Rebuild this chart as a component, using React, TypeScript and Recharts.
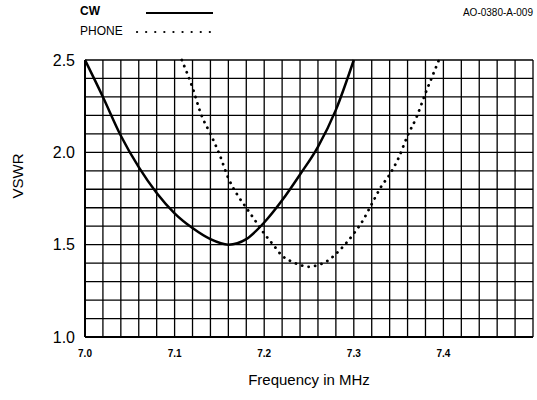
import React from "react";
import { CartesianGrid, Line, LineChart, XAxis, YAxis } from "recharts";

// CW curve (MHz, VSWR)
const cwFreq = [7.0, 7.02, 7.04, 7.06, 7.08, 7.1, 7.12, 7.14, 7.16, 7.18, 7.2, 7.22, 7.24, 7.26, 7.28, 7.3];
const cwVswr = [2.5, 2.3, 2.09, 1.92, 1.78, 1.67, 1.59, 1.53, 1.5, 1.53, 1.62, 1.74, 1.88, 2.03, 2.23, 2.5];

// PHONE curve
const phoneFreq = [
  7.108, 7.12, 7.13, 7.14, 7.15, 7.16, 7.17, 7.18, 7.19, 7.2, 7.21, 7.22, 7.23, 7.24, 7.25,
  7.26, 7.27, 7.28, 7.29, 7.3, 7.31, 7.32, 7.33, 7.34, 7.35, 7.36, 7.37, 7.38, 7.39, 7.395,
];
const phoneVswr = [
  2.5, 2.35, 2.2, 2.1, 1.99, 1.86, 1.77, 1.7, 1.63, 1.56, 1.5, 1.44, 1.41, 1.39, 1.38,
  1.39, 1.41, 1.45, 1.5, 1.56, 1.63, 1.72, 1.81, 1.88, 1.97, 2.09, 2.19, 2.32, 2.44, 2.5,
];

// grid: one cell = 0.02 MHz by 0.1 VSWR
const xTicks = Array.from({ length: 26 }, (_, i) => Math.round((7 + i * 0.02) * 100) / 100);
const yTicks = Array.from({ length: 16 }, (_, i) => Math.round((1 + i * 0.1) * 10) / 10);
const xLabels = ["7.0", "7.1", "7.2", "7.3", "7.4"];
const yLabels = ["1.0", "1.5", "2.0", "2.5"];

const cwData = cwFreq.map((f, i) => ({ f, v: cwVswr[i] }));
const phoneData = phoneFreq.map((f, i) => ({ f, v: phoneVswr[i] }));

const FONT = "'Liberation Sans', Arial, sans-serif";

export default function App() {
  return (
    <div style={{ position: "absolute", left: 0, top: 0, width: 537, height: 400, background: "#fff", fontFamily: FONT }}>
      <LineChart width={537} height={400} margin={{ top: 60, right: 4, bottom: 0, left: 0 }}>
        <CartesianGrid stroke="#000" strokeWidth={1.3} />
        <XAxis
          type="number"
          dataKey="f"
          domain={[7, 7.5]}
          ticks={xTicks}
          allowDuplicatedCategory={false}
          height={63}
          tickLine={false}
          axisLine={{ stroke: "#000", strokeWidth: 2 }}
          tick={{ fill: "#000", fontSize: 10, fontWeight: 700, fontFamily: FONT }}
          tickMargin={7}
          interval={0}
          tickFormatter={(v: number) => {
            const s = v.toFixed(1);
            return Math.abs(v * 10 - Math.round(v * 10)) < 1e-6 && xLabels.includes(s) ? s : "";
          }}
          label={{ value: "Frequency in MHz", position: "insideBottom", offset: 15, fill: "#000", fontSize: 15, fontFamily: FONT }}
        />
        <YAxis
          type="number"
          domain={[1, 2.5]}
          ticks={yTicks}
          width={85}
          interval={0}
          tickLine={false}
          axisLine={{ stroke: "#000", strokeWidth: 2 }}
          tick={{ fill: "#000", fontSize: 16, fontFamily: FONT }}
          tickMargin={4}
          tickFormatter={(v: number) => {
            const s = v.toFixed(1);
            return yLabels.includes(s) ? s : "";
          }}
          label={{ value: "VSWR", angle: -90, position: "insideLeft", offset: 18, fill: "#000", fontSize: 15, fontFamily: FONT }}
        />
        <Line
          data={cwData}
          dataKey="v"
          type="monotone"
          stroke="#000"
          strokeWidth={2.5}
          dot={false}
          isAnimationActive={false}
        />
        <Line
          data={phoneData}
          dataKey="v"
          type="monotone"
          stroke="#000"
          strokeWidth={2.8}
          strokeDasharray="0.1 6.5"
          strokeLinecap="round"
          dot={false}
          isAnimationActive={false}
        />
      </LineChart>
      <div style={{ position: "absolute", left: 80, top: 4, fontSize: 12, fontWeight: 700, lineHeight: "14px" }}>CW</div>
      <svg style={{ position: "absolute", left: 0, top: 0 }} width={537} height={45}>
        <line x1={146} y1={13} x2={213} y2={13} stroke="#000" strokeWidth={2} />
        <line x1={137} y1={32} x2={213} y2={32} stroke="#000" strokeWidth={2.2} strokeDasharray="0.1 9" strokeLinecap="round" />
      </svg>
      <div style={{ position: "absolute", left: 80, top: 24, fontSize: 12, lineHeight: "14px" }}>PHONE</div>
      <div style={{ position: "absolute", right: 4, top: 7, fontSize: 10, lineHeight: "12px" }}>AO-0380-A-009</div>
    </div>
  );
}
